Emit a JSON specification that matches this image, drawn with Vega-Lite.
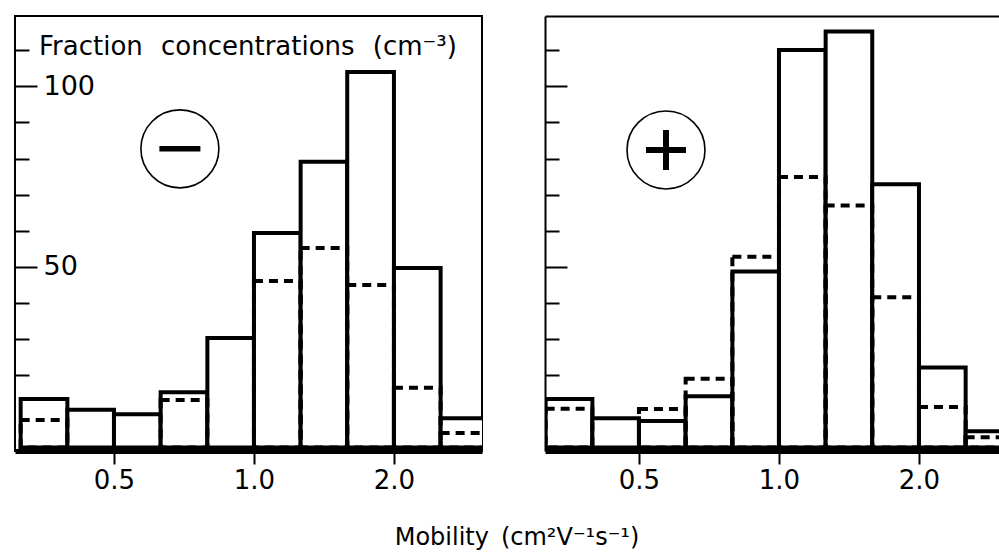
{
  "$schema": "https://vega.github.io/schema/vega-lite/v6.json",
  "padding": {"left": 13, "top": 15, "right": 0, "bottom": 0},
  "background": "white",
  "config": {"font": "DejaVu Sans", "axis": {"grid": false, "tickColor": "black", "domainColor": "black", "labelColor": "black"}},
  "title": {"text": "Mobility\u2002(cm²V⁻¹s⁻¹)", "orient": "bottom", "anchor": "middle", "fontSize": 24, "font": "DejaVu Sans", "fontWeight": "normal", "color": "black", "offset": 32, "dx": 10},
  "datasets": {
    "neg": [
      {"x0": 0.315, "x1": 0.397, "total": 13.4, "part": 7.6},
      {"x0": 0.397, "x1": 0.5, "total": 10.4, "part": null},
      {"x0": 0.5, "x1": 0.63, "total": 9.2, "part": null},
      {"x0": 0.63, "x1": 0.794, "total": 15.3, "part": 13.1},
      {"x0": 0.794, "x1": 1.0, "total": 30.3, "part": null},
      {"x0": 1.0, "x1": 1.26, "total": 59.4, "part": 46.1},
      {"x0": 1.26, "x1": 1.587, "total": 79.1, "part": 55.2},
      {"x0": 1.587, "x1": 2.0, "total": 104.0, "part": 45.0},
      {"x0": 2.0, "x1": 2.52, "total": 49.7, "part": 16.5},
      {"x0": 2.52, "x1": 3.175, "total": 8.1, "part": 4.0}
    ],
    "pos": [
      {"x0": 0.315, "x1": 0.397, "total": 13.4, "part": 10.7},
      {"x0": 0.397, "x1": 0.5, "total": 8.1, "part": null},
      {"x0": 0.5, "x1": 0.63, "total": 7.3, "part": 10.6},
      {"x0": 0.63, "x1": 0.794, "total": 14.2, "part": 19.0},
      {"x0": 0.794, "x1": 1.0, "total": 48.7, "part": 52.8},
      {"x0": 1.0, "x1": 1.26, "total": 110.1, "part": 74.9},
      {"x0": 1.26, "x1": 1.587, "total": 115.2, "part": 67.0},
      {"x0": 1.587, "x1": 2.0, "total": 72.9, "part": 41.6},
      {"x0": 2.0, "x1": 2.52, "total": 22.1, "part": 11.2},
      {"x0": 2.52, "x1": 3.175, "total": 4.5, "part": 2.8}
    ]
  },
  "hconcat": [
    {
      "width": 467,
      "height": 435,
      "view": {"stroke": "black", "strokeWidth": 2, "fill": "white"},
      "resolve": {"axis": {"y": "independent", "x": "independent"}},
      "layer": [
        {
          "data": {"name": "neg"},
          "mark": {"type": "bar", "clip": true, "fill": "white", "stroke": "black", "strokeWidth": 4},
          "encoding": {
            "x": {"field": "x0", "type": "quantitative", "scale": {"type": "log", "base": 2, "domain": [0.3063, 3.093], "nice": false},
              "axis": {"orient": "bottom", "values": [0.5, 1, 2], "format": ".1f", "tickSize": 13, "tickWidth": 2, "domain": true, "domainWidth": 5, "labelFontSize": 26, "labelFont": "DejaVu Sans", "labelPadding": 3, "title": null}},
            "x2": {"field": "x1"},
            "y": {"field": "total", "type": "quantitative", "scale": {"domain": [-1, 119.5], "nice": false, "zero": false},
              "axis": {"orient": "left", "values": [20, 30, 40, 60, 70, 80, 90, 110], "tickSize": -14, "tickWidth": 2, "labels": false, "domain": false, "title": null}},
            "y2": {"datum": 0}
          }
        },
        {
          "data": {"name": "neg"},
          "transform": [{"filter": "datum.part != null"}],
          "mark": {"type": "bar", "clip": true, "fill": "transparent", "stroke": "black", "strokeWidth": 4, "strokeDash": [9, 6]},
          "encoding": {
            "x": {"field": "x0", "type": "quantitative", "scale": {"type": "log", "base": 2, "domain": [0.3063, 3.093], "nice": false}, "axis": null},
            "x2": {"field": "x1"},
            "y": {"field": "part", "type": "quantitative", "scale": {"domain": [-1, 119.5], "nice": false, "zero": false},
              "axis": {"orient": "left", "values": [50, 100], "tickSize": -22, "tickWidth": 2, "labelAlign": "left", "labelPadding": -6, "labelFontSize": 27, "labelFont": "DejaVu Sans", "domain": false, "title": null}},
            "y2": {"datum": 0}
          }
        },
        {
          "data": {"values": [{"cx": 0.693, "cy": 82.7}]},
          "mark": {"type": "point", "shape": "circle", "size": 6084, "filled": false, "stroke": "black", "strokeWidth": 1.6, "opacity": 1},
          "encoding": {
            "x": {"field": "cx", "type": "quantitative", "scale": {"type": "log", "base": 2, "domain": [0.3063, 3.093], "nice": false}, "axis": null},
            "y": {"field": "cy", "type": "quantitative", "scale": {"domain": [-1, 119.5], "nice": false, "zero": false}, "axis": null}
          }
        },
        {
          "data": {"values": [{"cx": 0.693, "cy": 82.7}]},
          "mark": {"type": "point", "shape": "M-1,0H1", "size": 1681, "filled": false, "stroke": "black", "strokeWidth": 5.5, "opacity": 1},
          "encoding": {
            "x": {"field": "cx", "type": "quantitative", "scale": {"type": "log", "base": 2, "domain": [0.3063, 3.093], "nice": false}, "axis": null},
            "y": {"field": "cy", "type": "quantitative", "scale": {"domain": [-1, 119.5], "nice": false, "zero": false}, "axis": null}
          }
        },
        {
          "data": {"values": [{"tx": 0.345, "ty": 108.7, "label": "Fraction\u2002\u2009concentrations\u2002\u2009(cm⁻³)"}]},
          "mark": {"type": "text", "align": "left", "baseline": "alphabetic", "fontSize": 26, "font": "DejaVu Sans", "color": "black"},
          "encoding": {
            "x": {"field": "tx", "type": "quantitative", "scale": {"type": "log", "base": 2, "domain": [0.3063, 3.093], "nice": false}, "axis": null},
            "y": {"field": "ty", "type": "quantitative", "scale": {"domain": [-1, 119.5], "nice": false, "zero": false}, "axis": null},
            "text": {"field": "label"}
          }
        }
      ]
    },
    {
      "width": 456,
      "height": 435,
      "view": {"stroke": null, "fill": "white"},
      "resolve": {"axis": {"y": "independent", "x": "independent"}},
      "layer": [
        {
          "data": {"name": "pos"},
          "mark": {"type": "bar", "clip": true, "fill": "white", "stroke": "black", "strokeWidth": 4},
          "encoding": {
            "x": {"field": "x0", "type": "quantitative", "scale": {"type": "log", "base": 2, "domain": [0.314, 3.002], "nice": false},
              "axis": {"orient": "bottom", "values": [0.5, 1, 2], "format": ".1f", "tickSize": 13, "tickWidth": 2, "domain": true, "domainWidth": 5, "labelFontSize": 26, "labelFont": "DejaVu Sans", "labelPadding": 3, "title": null}},
            "x2": {"field": "x1"},
            "y": {"field": "total", "type": "quantitative", "scale": {"domain": [-1, 119.5], "nice": false, "zero": false},
              "axis": {"orient": "left", "values": [20, 30, 40, 60, 70, 80, 90, 110], "tickSize": -14, "tickWidth": 2, "labels": false, "domain": true, "domainWidth": 2, "title": null}},
            "y2": {"datum": 0}
          }
        },
        {
          "data": {"name": "pos"},
          "transform": [{"filter": "datum.part != null"}],
          "mark": {"type": "bar", "clip": true, "fill": "transparent", "stroke": "black", "strokeWidth": 4, "strokeDash": [9, 6]},
          "encoding": {
            "x": {"field": "x0", "type": "quantitative", "scale": {"type": "log", "base": 2, "domain": [0.314, 3.002], "nice": false}, "axis": null},
            "x2": {"field": "x1"},
            "y": {"field": "part", "type": "quantitative", "scale": {"domain": [-1, 119.5], "nice": false, "zero": false},
              "axis": {"orient": "left", "values": [50, 100], "tickSize": -22, "tickWidth": 2, "labels": false, "domain": false, "title": null}},
            "y2": {"datum": 0}
          }
        },
        {
          "data": {"values": [{"cx": 0.5716, "cy": 82.4}]},
          "mark": {"type": "point", "shape": "circle", "size": 6084, "filled": false, "stroke": "black", "strokeWidth": 1.6, "opacity": 1},
          "encoding": {
            "x": {"field": "cx", "type": "quantitative", "scale": {"type": "log", "base": 2, "domain": [0.314, 3.002], "nice": false},
              "axis": {"orient": "top", "domain": true, "domainWidth": 2, "ticks": false, "labels": false, "title": null}},
            "y": {"field": "cy", "type": "quantitative", "scale": {"domain": [-1, 119.5], "nice": false, "zero": false}, "axis": null}
          }
        },
        {
          "data": {"values": [{"cx": 0.5716, "cy": 82.4}]},
          "mark": {"type": "point", "shape": "M-1,0H1M0,-1V1", "size": 1600, "filled": false, "stroke": "black", "strokeWidth": 6, "opacity": 1},
          "encoding": {
            "x": {"field": "cx", "type": "quantitative", "scale": {"type": "log", "base": 2, "domain": [0.314, 3.002], "nice": false}, "axis": null},
            "y": {"field": "cy", "type": "quantitative", "scale": {"domain": [-1, 119.5], "nice": false, "zero": false}, "axis": null}
          }
        }
      ]
    }
  ],
  "spacing": 63,
  "bounds": "flush"
}
